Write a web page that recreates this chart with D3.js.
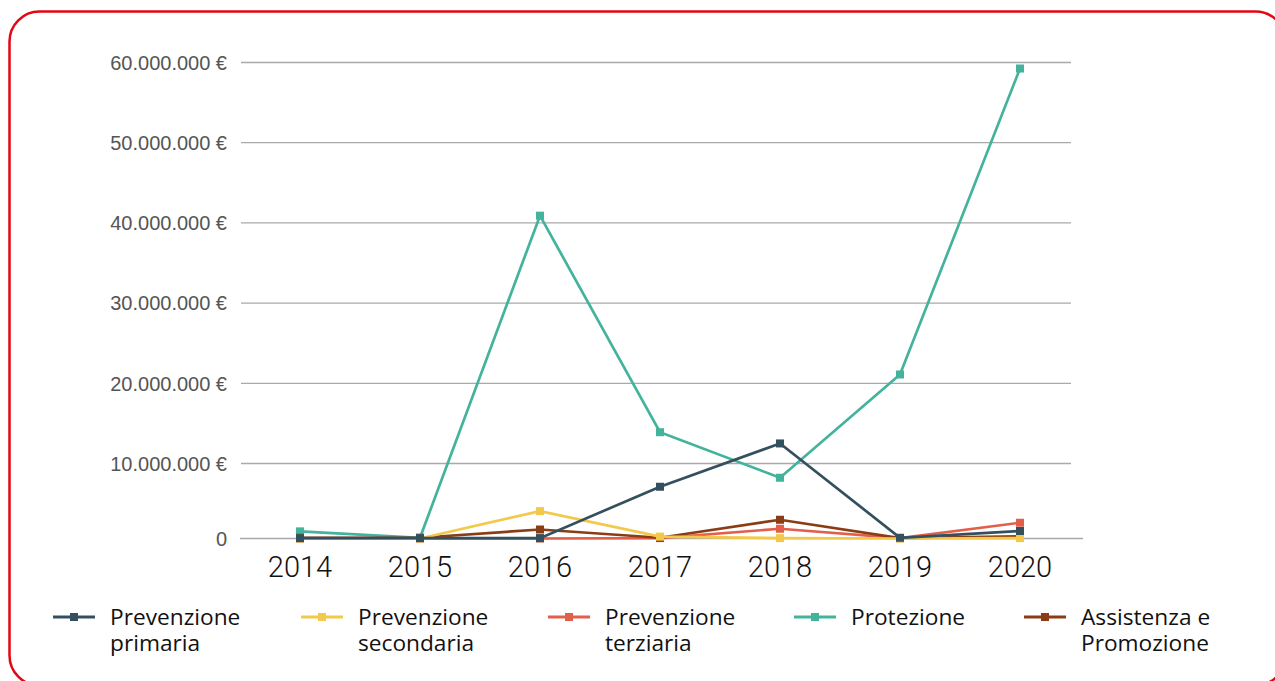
<!DOCTYPE html>
<html>
<head>
<meta charset="utf-8">
<script src="https://cdn.jsdelivr.net/npm/d3@7"></script>
<style>
  body { margin: 0; background: #fff; }
  svg { display: block; }
</style>
</head>
<body>
<div id="chart"></div>
<script>
let width = 1275;
let height = 681;

// data
let years = ["2014", "2015", "2016", "2017", "2018", "2019", "2020"];
let seriesNames = ["Prevenzione primaria", "Prevenzione secondaria", "Prevenzione terziaria", "Protezione", "Assistenza e Promozione"];
let legendLines = [["Prevenzione", "primaria"], ["Prevenzione", "secondaria"], ["Prevenzione", "terziaria"], ["Protezione"], ["Assistenza e", "Promozione"]];
let colors = ["#34505f", "#f3c94b", "#e2604b", "#43b39c", "#8a3d14"];

let primaria = [50000, 50000, 50000, 6900000, 12500000, 100000, 1000000];
let secondaria = [0, 0, 3650000, 250000, 50000, 0, 50000];
let terziaria = [0, 0, 0, 50000, 1300000, 50000, 2100000];
let protezione = [950000, 100000, 40900000, 13900000, 8100000, 21100000, 59250000];
let assistenza = [100000, 100000, 1200000, 100000, 2500000, 50000, 300000];

let yTicks = [0, 10000000, 20000000, 30000000, 40000000, 50000000, 60000000];
let yTickLabels = ["0", "10.000.000 €", "20.000.000 €", "30.000.000 €", "40.000.000 €", "50.000.000 €", "60.000.000 €"];

let allSeries = [primaria, secondaria, terziaria, protezione, assistenza];
// drawing order (back to front)
let drawOrder = [3, 2, 4, 1, 0];

let svg = d3.select("div#chart").append("svg")
    .attr("width", width)
    .attr("height", height);

// red rounded frame
svg.append("rect")
    .attr("x", 9.5)
    .attr("y", 11.5)
    .attr("width", 1276)
    .attr("height", 674)
    .attr("rx", 30)
    .attr("fill", "none")
    .attr("stroke", "#e30613")
    .attr("stroke-width", 2.5);

let x = d3.scalePoint()
    .domain(years)
    .range([300, 1020]);

// the baseline in the original sits a bit lower than the even grid
let y = d3.scaleLinear()
    .domain([0, 10000000, 60000000])
    .range([538.5, 463.5, 62.5]);

// grid lines
yTicks.forEach((t, i) => {
    svg.append("line")
        .attr("x1", t === 0 ? 240 : 241)
        .attr("x2", t === 0 ? 1083 : 1071)
        .attr("y1", y(t))
        .attr("y2", y(t))
        .attr("stroke", "#a9a9a9")
        .attr("stroke-width", 1.3);

    svg.append("text")
        .attr("x", 227)
        .attr("y", y(t))
        .attr("dy", "0.36em")
        .attr("text-anchor", "end")
        .attr("font-family", "'Liberation Sans', Arial, sans-serif")
        .attr("font-size", 20)
        .attr("fill", "#555")
        .text(yTickLabels[i]);
});

// year labels
years.forEach(yr => {
    svg.append("text")
        .attr("x", x(yr))
        .attr("y", 577)
        .attr("text-anchor", "middle")
        .attr("font-family", "Roboto, 'Liberation Sans', sans-serif")
        .attr("font-weight", 300)
        .attr("font-size", 29)
        .attr("fill", "#111")
        .text(yr);
});

let line = d3.line()
    .x((d, i) => x(years[i]))
    .y(d => y(d));

drawOrder.forEach(s => {
    let g = svg.append("g");
    g.append("path")
        .datum(allSeries[s])
        .attr("d", line)
        .attr("fill", "none")
        .attr("stroke", colors[s])
        .attr("stroke-width", 2.7);

    g.selectAll("rect")
        .data(allSeries[s])
        .join("rect")
        .attr("x", (d, i) => x(years[i]) - 4)
        .attr("y", d => y(d) - 4)
        .attr("width", 8)
        .attr("height", 8)
        .attr("fill", colors[s]);
});

// legend
let legendX = [53, 301, 548, 794, 1024];
seriesNames.forEach((name, i) => {
    let g = svg.append("g")
        .attr("transform", "translate(" + legendX[i] + ", 617)");
    g.append("line")
        .attr("x1", 0)
        .attr("x2", 42)
        .attr("stroke", colors[i])
        .attr("stroke-width", 3);
    g.append("rect")
        .attr("x", 17)
        .attr("y", -4)
        .attr("width", 8)
        .attr("height", 8)
        .attr("fill", colors[i]);
    legendLines[i].forEach((l, j) => {
        g.append("text")
            .attr("x", 57)
            .attr("y", 8 + j * 26)
            .attr("font-family", "'Open Sans', sans-serif")
            .attr("font-size", 22.7)
            .attr("fill", "#111")
            .text(l);
    });
});
</script>
</body>
</html>
